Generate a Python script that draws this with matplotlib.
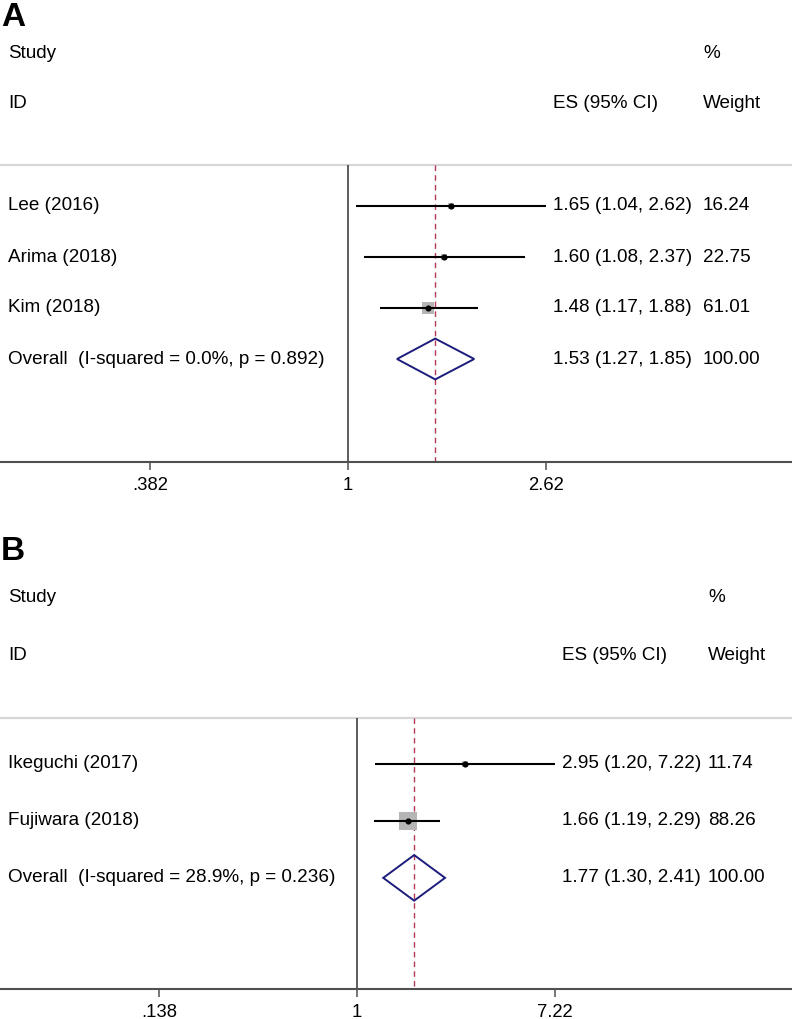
import numpy as np
import matplotlib
matplotlib.use("Agg")
import matplotlib.pyplot as plt
from matplotlib.patches import Polygon

plt.rcParams['font.family'] = ['Liberation Sans', 'DejaVu Sans']

# ---------------- data ----------------
a_studies = ["Lee (2016)", "Arima (2018)", "Kim (2018)"]
a_es = [1.65, 1.60, 1.48]
a_lo = [1.04, 1.08, 1.17]
a_hi = [2.62, 2.37, 1.88]
a_weight = [16.24, 22.75, 61.01]
a_overall = (1.53, 1.27, 1.85)
a_overall_label = "Overall  (I-squared = 0.0%, p = 0.892)"
a_ticks = [0.382, 1, 2.62]
a_ticklabels = [".382", "1", "2.62"]

b_studies = ["Ikeguchi (2017)", "Fujiwara (2018)"]
b_es = [2.95, 1.66]
b_lo = [1.20, 1.19]
b_hi = [7.22, 2.29]
b_weight = [11.74, 88.26]
b_overall = (1.77, 1.30, 2.41)
b_overall_label = "Overall  (I-squared = 28.9%, p = 0.236)"
b_ticks = [0.138, 1, 7.22]
b_ticklabels = [".138", "1", "7.22"]

W, H = 792, 1019
fig = plt.figure(figsize=(W / 100, H / 100), dpi=100)

FS = 13.6
NAVY = "#1c1c7c"
DASH = "#b23a55"
BOX = "#b5b5b5"


def panel(top_px, bot_px, row0_px, unit_px, xlim, studies, es, lo, hi, weight,
          overall, overall_label, ticks, ticklabels, first_row, box_k,
          x_es, x_w, letter, letter_y):
    ax = fig.add_axes([0, 1 - bot_px / H, 1, (bot_px - top_px) / H])
    ytop = (top_px - row0_px) / unit_px
    ybot = (bot_px - row0_px) / unit_px
    ax.set_xscale("log")
    ax.set_xlim(*xlim)
    ax.set_ylim(ybot, ytop)
    for s in ["top", "left", "right"]:
        ax.spines[s].set_visible(False)
    ax.spines["bottom"].set_color("#505050")
    ax.spines["bottom"].set_linewidth(1.5)
    ax.set_yticks([])
    ax.minorticks_off()
    ax.set_xticks(ticks)
    ax.set_xticklabels(ticklabels, fontsize=FS - 0.3)
    ax.tick_params(axis="x", which="both", direction="out", length=6, width=1.1,
                   color="#505050", pad=4.5)
    ax.tick_params(axis="x", which="minor", length=0)
    ax.patch.set_alpha(0)

    tr = ax.get_yaxis_transform()
    sep = first_row - 0.8
    # headers
    ax.text(8 / W, 0, "Study", transform=tr, fontsize=FS, va="center", ha="left")
    ax.text(8 / W, 1, "ID", transform=tr, fontsize=FS, va="center", ha="left")
    ax.text(x_w / W, 0, "%", transform=tr, fontsize=FS, va="center", ha="left")
    ax.text(x_es / W, 1, "ES (95% CI)", transform=tr, fontsize=FS, va="center", ha="left")
    ax.text(x_w / W, 1, "Weight", transform=tr, fontsize=FS, va="center", ha="left")
    ax.axhline(sep, color="#d6d6d6", lw=1.6, xmin=0, xmax=1)

    n = len(studies)
    rows = first_row + np.arange(n)
    orow = first_row + n
    ax.vlines(1, sep, ybot, color="#303030", lw=1.1, zorder=2)
    ax.vlines(overall[0], sep, ybot, color=DASH, lw=1.0, linestyles=(0, (4, 3)), zorder=2)

    for r, name, e, l, h, w in zip(rows, studies, es, lo, hi, weight):
        side_pt = box_k * np.sqrt(w) * 0.72
        ax.scatter([e], [r], marker="s", s=side_pt ** 2, color=BOX, lw=0, zorder=3)
        ax.plot([l, h], [r, r], color="black", lw=1.5, zorder=4, solid_capstyle="butt")
        ax.plot([e], [r], marker="o", ms=3.4, color="black", zorder=5)
        ax.text(8 / W, r, name, transform=tr, fontsize=FS, va="center", ha="left")
        ax.text(x_es / W, r, f"{e:.2f} ({l:.2f}, {h:.2f})", transform=tr,
                fontsize=FS, va="center", ha="left")
        ax.text(x_w / W, r, f"{w:.2f}", transform=tr, fontsize=FS, va="center", ha="left")

    e, l, h = overall
    dh = 0.40
    poly = Polygon([(l, orow), (e, orow - dh), (h, orow), (e, orow + dh)],
                   closed=True, fill=False, edgecolor=NAVY, lw=1.4, zorder=4)
    ax.add_patch(poly)
    ax.text(8 / W, orow, overall_label, transform=tr, fontsize=FS, va="center", ha="left")
    ax.text(x_es / W, orow, f"{e:.2f} ({l:.2f}, {h:.2f})", transform=tr,
            fontsize=FS, va="center", ha="left")
    ax.text(x_w / W, orow, "100.00", transform=tr, fontsize=FS, va="center", ha="left")

    fig.text(1 / W, 1 - letter_y / H, letter, fontsize=24, fontweight="bold",
             va="center", ha="left")
    return ax


panel(0, 462, 53, 51, (0.1836, 8.70), a_studies, a_es, a_lo, a_hi, a_weight,
      a_overall, a_overall_label, a_ticks, a_ticklabels, 3.0, 1.41,
      553, 703, "A", 17)

panel(520, 989, 598, 57, (0.02824, 77.2), b_studies, b_es, b_lo, b_hi, b_weight,
      b_overall, b_overall_label, b_ticks, b_ticklabels, 2.91, 1.81,
      562, 708, "B", 552)

fig.savefig("out.png", dpi=100)
